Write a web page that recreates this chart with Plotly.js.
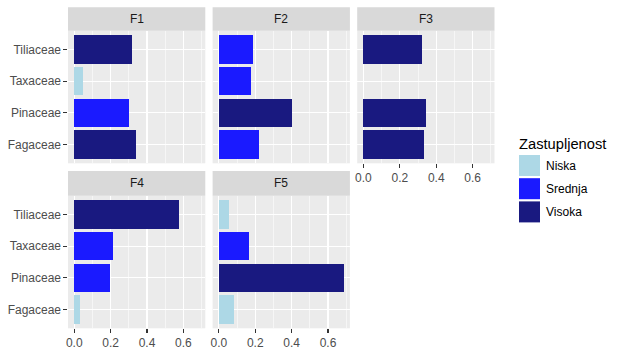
<!DOCTYPE html>
<html>
<head>
<meta charset="utf-8">
<script src="https://cdn.plot.ly/plotly-3.0.1.min.js"></script>
<style>html,body{margin:0;padding:0;background:#fff;}#chart{width:619px;height:352px;}</style>
</head>
<body>
<div id="chart"></div>
<script>
// ---- data ----
const families = ['Fagaceae', 'Pinaceae', 'Taxaceae', 'Tiliaceae'];
const facets = ['F1', 'F2', 'F3', 'F4', 'F5'];
const levels = ['Niska', 'Srednja', 'Visoka'];
const levelColors = ['#ADD8E6', '#1A1AFF', '#191980'];

const F1_values = [0.337, 0.299, 0.050, 0.320];
const F1_levels = ['Visoka', 'Srednja', 'Niska', 'Visoka'];
const F2_values = [0.222, 0.403, 0.178, 0.189];
const F2_levels = ['Srednja', 'Visoka', 'Srednja', 'Srednja'];
const F3_values = [0.334, 0.345, null, 0.322];
const F3_levels = ['Visoka', 'Visoka', null, 'Visoka'];
const F4_values = [0.030, 0.195, 0.211, 0.573];
const F4_levels = ['Niska', 'Srednja', 'Srednja', 'Visoka'];
const F5_values = [0.085, 0.686, 0.167, 0.058];
const F5_levels = ['Niska', 'Visoka', 'Srednja', 'Niska'];

const xTicks = [0, 0.2, 0.4, 0.6];
const legendTitle = 'Zastupljenost';

const facetValues = [F1_values, F2_values, F3_values, F4_values, F5_values];
const facetLevels = [F1_levels, F2_levels, F3_levels, F4_levels, F5_levels];

// ---- geometry (pixels) ----
const W = 619, H = 352;
const px = v => v / W;
const py = v => 1 - v / H;
const cols = [[68, 205.3], [212.6, 349.9], [357.2, 494.5]];
const rows = [{strip: [7.3, 30.7], panel: [30.7, 163.3]},
              {strip: [171, 195.7], panel: [195.7, 328.3]}];
const pos = [[0,0],[0,1],[0,2],[1,0],[1,1]]; // [row, col]

const FONT = 'Liberation Sans, Arial, sans-serif';
const colorOf = l => levelColors[levels.indexOf(l)];

const allVals = facetValues.flat().filter(v => v !== null);
const xmax = Math.max(...allVals);
const xrange = [-0.05 * xmax, 1.05 * xmax];

const traces = [];
const layout = {
  width: W, height: H, autosize: false,
  margin: {l: 0, r: 0, t: 0, b: 0},
  paper_bgcolor: '#FFFFFF',
  plot_bgcolor: '#EBEBEB',
  showlegend: false,
  font: {family: FONT, size: 12, color: '#4D4D4D'},
  shapes: [], annotations: [],
  bargap: 0
};

facets.forEach((f, i) => {
  const [r, c] = pos[i];
  const n = i + 1;
  const xa = 'x' + (n === 1 ? '' : n);
  const ya = 'y' + (n === 1 ? '' : n);
  traces.push({
    type: 'bar', orientation: 'h',
    x: facetValues[i], y: families,
    width: 0.9,
    marker: {color: facetLevels[i].map(l => l ? colorOf(l) : 'rgba(0,0,0,0)'), line: {width: 0}},
    xaxis: xa, yaxis: ya, hoverinfo: 'x+y'
  });
  const showX = (r === 1) || (c === 2);
  const showY = (c === 0);
  const xkey = 'xaxis' + (n === 1 ? '' : n);
  const ykey = 'yaxis' + (n === 1 ? '' : n);
  layout[xkey] = {
    domain: [px(cols[c][0]), px(cols[c][1])],
    anchor: ya, range: xrange, fixedrange: true,
    tickvals: xTicks, ticktext: xTicks.map(v => v.toFixed(1)),
    showticklabels: showX,
    ticks: showX ? 'outside' : '', ticklen: 3.6, tickwidth: 1.07, tickcolor: '#333333',
    tickfont: {family: FONT, size: 12, color: '#4D4D4D'},
    showgrid: true, gridcolor: '#FFFFFF', gridwidth: 1.07,
    minor: {dtick: 0.1, tick0: 0, showgrid: true, gridcolor: '#FFFFFF', gridwidth: 0.53, ticks: ''},
    zeroline: false, showline: false
  };
  layout[ykey] = {
    domain: [py(rows[r].panel[1]), py(rows[r].panel[0])],
    anchor: xa, type: 'category', categoryorder: 'array', categoryarray: families,
    range: [-0.6, 3.6], fixedrange: true,
    showticklabels: showY,
    ticks: showY ? 'outside' : '', ticklen: 3.6, tickwidth: 1.07, tickcolor: '#333333',
    tickfont: {family: FONT, size: 12, color: '#4D4D4D'},
    showgrid: true, gridcolor: '#FFFFFF', gridwidth: 1.07,
    zeroline: false, showline: false
  };
  // strip
  layout.shapes.push({type: 'rect', xref: 'paper', yref: 'paper',
    x0: px(cols[c][0]), x1: px(cols[c][1]),
    y0: py(rows[r].strip[1]), y1: py(rows[r].strip[0]),
    fillcolor: '#D9D9D9', line: {width: 0}, layer: 'below'});
  layout.annotations.push({xref: 'paper', yref: 'paper',
    x: px((cols[c][0] + cols[c][1]) / 2), y: py((rows[r].strip[0] + rows[r].strip[1]) / 2),
    text: f, showarrow: false, xanchor: 'center', yanchor: 'middle',
    font: {family: FONT, size: 12, color: '#1A1A1A'}});
});

// legend (manual)
layout.annotations.push({xref: 'paper', yref: 'paper', x: px(517), y: py(144),
  text: legendTitle, showarrow: false, xanchor: 'left', yanchor: 'middle',
  font: {family: FONT, size: 14.7, color: '#000000'}});
levels.forEach((l, k) => {
  const top = 155 + k * 23.2;
  layout.shapes.push({type: 'rect', xref: 'paper', yref: 'paper',
    x0: px(519), x1: px(540), y0: py(top + 21), y1: py(top),
    fillcolor: levelColors[k], line: {width: 0}});
  layout.annotations.push({xref: 'paper', yref: 'paper', x: px(544), y: py(top + 10.5),
    text: l, showarrow: false, xanchor: 'left', yanchor: 'middle',
    font: {family: FONT, size: 12, color: '#000000'}});
});

Plotly.newPlot('chart', traces, layout, {staticPlot: true, displayModeBar: false});
</script>
</body>
</html>
